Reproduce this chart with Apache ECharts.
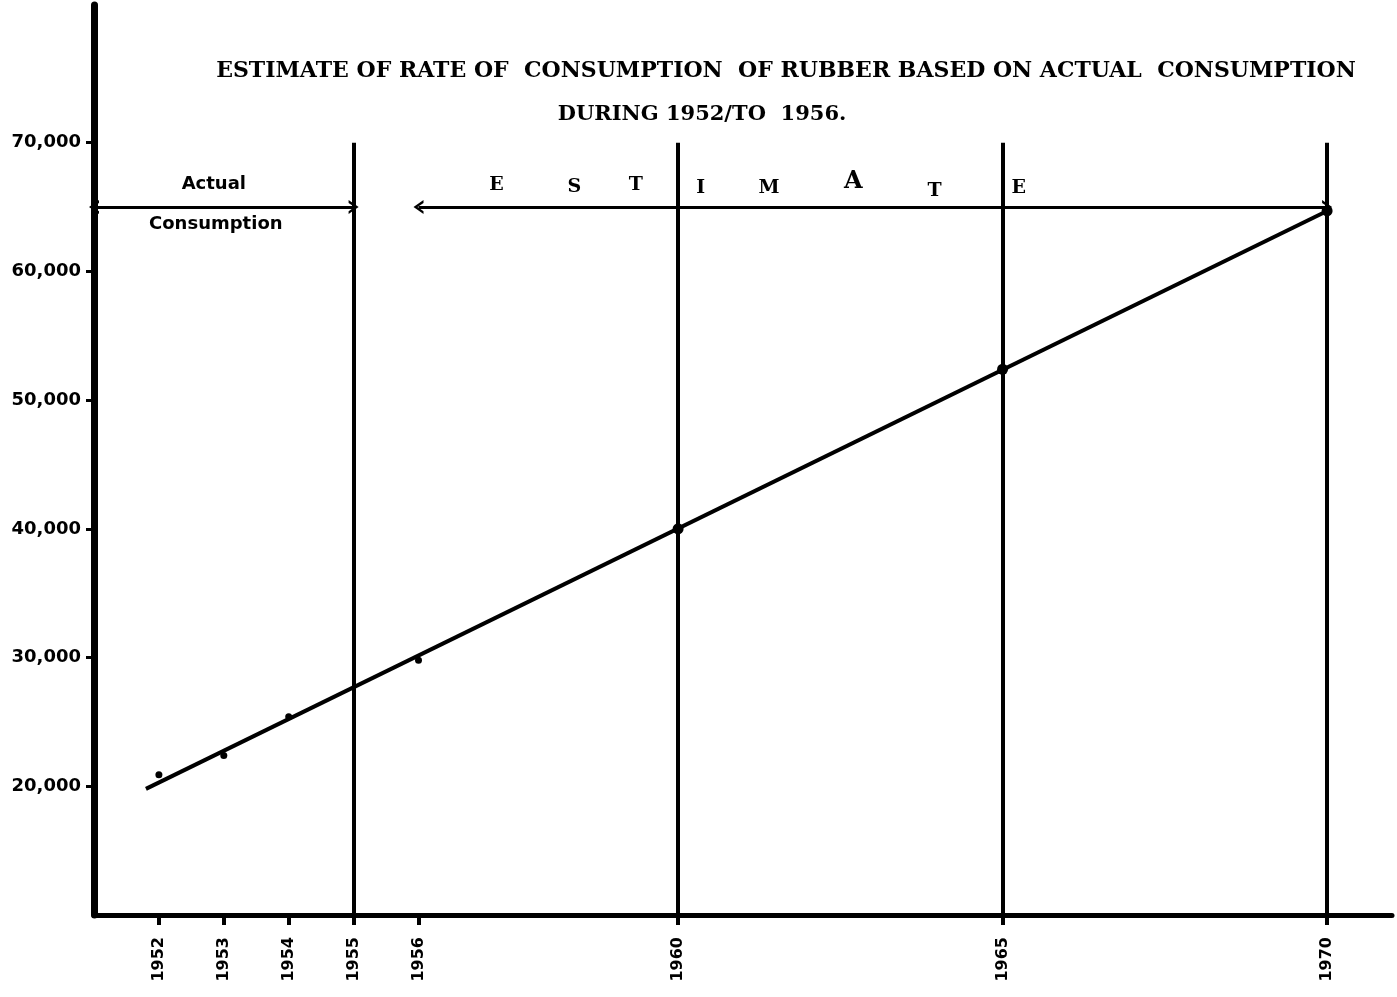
<!DOCTYPE html>
<html>
<head>
<meta charset="utf-8">
<title>Rubber consumption estimate</title>
<script src="https://cdn.jsdelivr.net/npm/echarts@6/dist/echarts.min.js"></script>
<style>
html,body{margin:0;padding:0;background:#fff;}
#chart{width:1397px;height:997px;}
</style>
</head>
<body>
<div id="chart"></div>
<script>
// tick labels
var yearTicks = [1952, 1953, 1954, 1955, 1956, 1960, 1965, 1970];
var valueTicks = [20000, 30000, 40000, 50000, 60000, 70000];

// plotted actual consumption (dots)
var actualYears = [1952, 1953, 1954, 1956];
var actualValues = [20900, 22400, 25400, 29800];

// fitted line and estimate points
var trendYears = [1951.8, 1970];
var trendValues = [19800, 64700];
var estimateYears = [1960, 1965, 1970];
var estimateValues = [40000, 52400, 64700];

// vertical dividers and the two span arrows
var dividerYears = [1955, 1960, 1965, 1970];
var dividerTop = 70000;
var arrowValue = 65000;
var actualSpan = [1951, 1955];
var estimateSpan = [1956, 1970];

// spaced-out "ESTIMATE" lettering
var estimateLetters = ['E', 'S', 'T', 'I', 'M', 'A', 'T', 'E'];
var letterYears = [1957.2, 1958.4, 1959.35, 1960.35, 1961.4, 1962.7, 1963.95, 1965.25];
var letterValues = [66700, 66550, 66700, 66500, 66500, 66950, 66250, 66500];

var titleLine1 = 'ESTIMATE OF RATE OF  CONSUMPTION  OF RUBBER BASED ON ACTUAL  CONSUMPTION';
var titleLine2 = 'DURING 1952/TO  1956.';

window.onload = function(){
	var myChart = echarts.init(document.getElementById('chart'));
	var serif = '"DejaVu Serif", "Liberation Serif", serif';
	var sans = '"DejaVu Sans", sans-serif';

	function zip(a, b){
		return a.map(function(v, i){ return [v, b[i]]; });
	}

	var chevron = 'path://M0,10 L5,0 L10,10 L8,10 L5,4 L2,10 Z';
	function span(s){
		return [
			{coord: [s[0], arrowValue], symbol: chevron, symbolSize: [14, 10], lineStyle: {width: 3}},
			{coord: [s[1], arrowValue], symbol: chevron, symbolSize: [14, 10]}
		];
	}
	var lines = dividerYears.map(function(y){
		return [{coord: [y, dividerTop]}, {coord: [y, 10000]}];
	});
	lines.push(span(actualSpan));
	lines.push(span(estimateSpan));

	var option = {
		backgroundColor: '#fff',
		animation: false,
		grid: {
			left: 94,
			right: 5,
			top: 5,
			bottom: 82
		},
		xAxis: {
			type: 'value',
			min: 1951,
			max: 1971,
			splitLine: {show: false},
			axisLine: {lineStyle: {color: '#000', width: 5}},
			axisTick: {
				customValues: yearTicks,
				length: 10,
				lineStyle: {color: '#000', width: 4}
			},
			axisLabel: {
				customValues: yearTicks,
				rotate: 90,
				margin: 22,
				color: '#000',
				fontFamily: sans,
				fontWeight: 'bold',
				fontSize: 16,
				formatter: function(v){
					return String(v);
				}
			}
		},
		yAxis: {
			type: 'value',
			min: 10000,
			max: 80700,
			splitLine: {show: false},
			axisLine: {show: true, lineStyle: {color: '#000', width: 7}},
			axisTick: {
				customValues: valueTicks,
				length: 8,
				lineStyle: {color: '#000', width: 3}
			},
			axisLabel: {
				customValues: valueTicks,
				margin: 13,
				color: '#000',
				fontFamily: sans,
				fontWeight: 'bold',
				fontSize: 18,
				formatter: function(v){
					return v.toLocaleString('en-US');
				}
			}
		},
		series: [
			{
				name: 'trend',
				type: 'line',
				data: zip(trendYears, trendValues),
				symbol: 'none',
				lineStyle: {color: '#000', width: 4},
				z: 3,
				markLine: {
					silent: true,
					symbol: ['none', 'none'],
					label: {show: false},
					lineStyle: {color: '#000', width: 4, type: 'solid'},
					data: lines
				}
			},
			{
				name: 'actual',
				type: 'scatter',
				data: zip(actualYears, actualValues),
				symbolSize: 7,
				itemStyle: {color: '#000', opacity: 1},
				z: 4
			},
			{
				name: 'estimate',
				type: 'scatter',
				data: zip(estimateYears, estimateValues),
				symbolSize: 11,
				itemStyle: {color: '#000', opacity: 1},
				z: 4
			}
		]
	};
	myChart.setOption(option);

	// annotations placed from data coordinates
	function px(x, y){
		return myChart.convertToPixel({seriesIndex: 0}, [x, y]);
	}
	var pA = px((actualSpan[0] + actualSpan[1]) / 2, arrowValue);
	function txt(s, x, y, font){
		return {
			type: 'text',
			style: {
				text: s, x: x, y: y,
				fill: '#000', font: font,
				textAlign: 'center', textVerticalAlign: 'middle'
			}
		};
	}
	var graphics = [
		txt(titleLine1, 786, 71, 'bold 22px ' + serif),
		txt(titleLine2, 702, 115, 'bold 21px ' + serif),
		txt('Actual', pA[0] - 10, pA[1] - 23, 'bold 18px ' + sans),
		txt('Consumption', pA[0] - 8, pA[1] + 17, 'bold 18px ' + sans)
	];
	estimateLetters.forEach(function(ch, i){
		var p = px(letterYears[i], letterValues[i]);
		graphics.push(txt(ch, p[0], p[1], 'bold ' + (ch === 'A' ? 24 : 19) + 'px ' + serif));
	});
	myChart.setOption({graphic: graphics});

	window.addEventListener('resize', function(){
		myChart.resize();
	});
};
</script>
</body>
</html>
